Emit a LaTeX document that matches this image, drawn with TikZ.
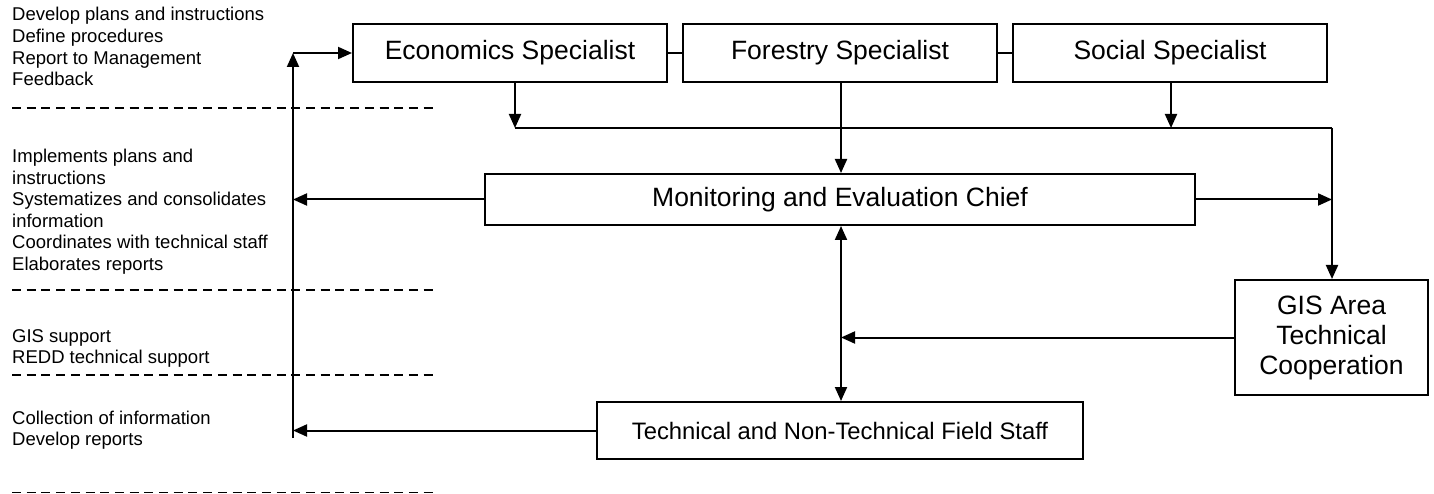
\documentclass[tikz,border=0pt]{standalone}
\usepackage{fontspec}
\setmainfont{Liberation Sans}
\usetikzlibrary{arrows.meta,calc}
\begin{document}
\begin{tikzpicture}[x=1pt,y=-1pt,
  box/.style={draw,line width=2pt,inner sep=0pt,align=center,font=\fontsize{26.5}{30}\selectfont},
  lbl/.style={anchor=base west,inner sep=0pt,font=\fontsize{18.5}{21.7}\selectfont},
  conn/.style={line width=2pt},
  arr/.style={line width=2pt,-{Triangle[length=14pt,width=12pt]}},
  darr/.style={line width=2pt,{Triangle[length=14pt,width=12pt]}-{Triangle[length=14pt,width=12pt]}},
  sep/.style={line width=1.6pt,dash pattern=on 9pt off 5.7pt}]
\useasboundingbox (0,0) rectangle (1434,494);

% boxes
\node[box,minimum width=314pt,minimum height=58pt] (econ) at (510,53) {Economics Specialist};
\node[box,minimum width=314pt,minimum height=58pt] (forest) at (840,53) {Forestry Specialist};
\node[box,minimum width=314pt,minimum height=58pt] (social) at (1170,53) {Social Specialist};
\node[box,minimum width=710pt,minimum height=51pt] (mon) at (840,199.5) {Monitoring and Evaluation Chief};
\node[box,minimum width=486pt,minimum height=57pt,font=\fontsize{23.8}{28}\selectfont] (tech) at (840,430.5) {Technical and Non-Technical Field Staff};
\node[box,minimum width=193pt,minimum height=115pt] (gis) at (1331.5,337.5) {GIS Area\\Technical\\Cooperation};

% left labels
\node[lbl] (a1) at (12,21) {Develop plans and instructions};
\node[lbl] (a2) at (12,42.7) {Define procedures};
\node[lbl] (a3) at (12,64.3) {Report to Management};
\node[lbl] (a4) at (12,86) {Feedback};
\node[lbl] (b1) at (12,162.7) {Implements plans and};
\node[lbl] (b2) at (12,184.2) {instructions};
\node[lbl] (b3) at (12,205.7) {Systematizes and consolidates};
\node[lbl] (b4) at (12,227.2) {information};
\node[lbl] (b5) at (12,248.7) {Coordinates with technical staff};
\node[lbl] (b6) at (12,270.2) {Elaborates reports};
\node[lbl] (c1) at (12,342) {GIS support};
\node[lbl] (c2) at (12,363) {REDD technical support};
\node[lbl] (d1) at (12,424.5) {Collection of information};
\node[lbl] (d2) at (12,445.5) {Develop reports};

% separators
\draw[sep] (12,108) -- (437,108);
\draw[sep] (12,290) -- (437,290);
\draw[sep] (12,375) -- (437,375);
\draw[sep] (12,492.5) -- (437,492.5);

% junction coordinates
\coordinate (tl) at (293,53);
\coordinate (bl) at (293,438);
\coordinate (ej) at (515,128);
\coordinate (sj) at (1171,128);
\coordinate (rj) at (1332,128);
\coordinate (fx) at (841,0);

% connectors
\draw[conn] (econ.east) -- (forest.west);
\draw[conn] (forest.east) -- (social.west);
\draw[arr] (bl) -- (tl);
\draw[arr] (tl) -- (econ.west);
\draw[arr] (econ.south -| ej) -- (ej);
\draw[arr] (social.south -| sj) -- (sj);
\draw[conn] (ej) -- (rj);
\draw[arr] (rj) -- (gis.north -| rj);
\draw[arr] (forest.south -| fx) -- (mon.north -| fx);
\draw[arr] (mon.west) -- (mon.west -| tl);
\draw[arr] (mon.east) -- (mon.east -| rj);
\draw[darr] (mon.south -| fx) -- (tech.north -| fx);
\draw[arr] (gis.west) -- (gis.west -| fx);
\draw[arr] (tech.west) -- (tech.west -| bl);
\end{tikzpicture}
\end{document}
